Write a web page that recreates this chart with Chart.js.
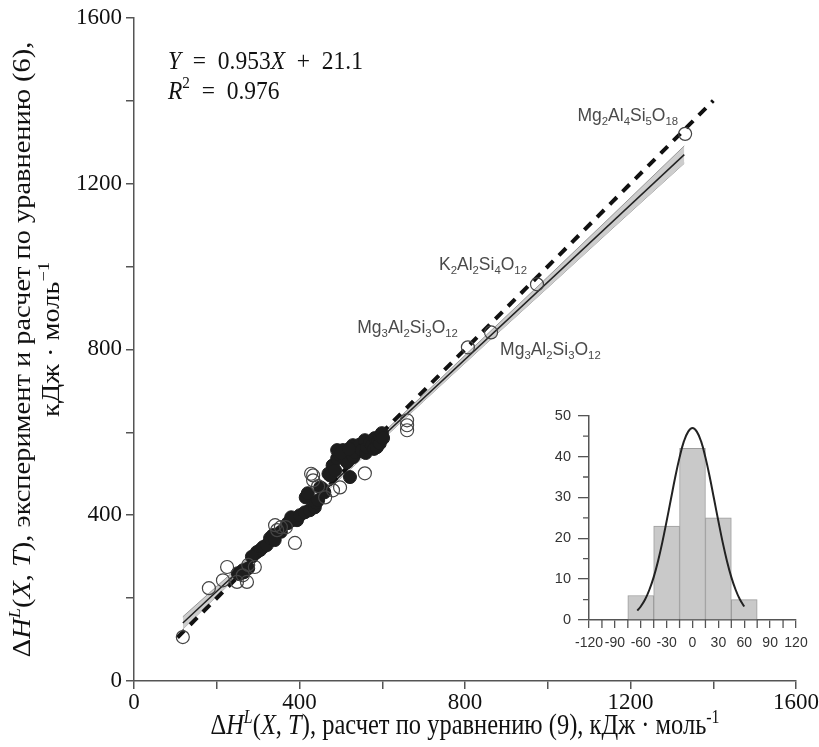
<!DOCTYPE html>
<html>
<head>
<meta charset="utf-8">
<script src="https://cdn.jsdelivr.net/npm/chart.js@4.4.0/dist/chart.umd.min.js"></script>
<style>
  html, body { margin: 0; padding: 0; background: #fff; }
  #wrap { position: relative; width: 819px; height: 747px; overflow: hidden; }
  #mainChart { position: absolute; left: 0; top: 0; }
  #inset { position: absolute; left: 540px; top: 400px; width: 279px; height: 262px; }
</style>
</head>
<body>
<div id="wrap">
  <canvas id="mainChart" width="819" height="747"></canvas>
  <div id="inset"><canvas id="histChart" width="279" height="262"></canvas></div>
</div>
<script>
// ---- main scatter data (kJ/mol) ----
const filledX = [251, 263, 276, 255, 297, 305, 312, 321, 329, 336, 340, 355, 372, 382, 394, 380, 401, 413, 425, 437,
                 415, 420, 440, 445, 450, 454, 460, 470, 474, 480, 486, 491, 498, 491, 505, 510, 515, 522, 529, 530,
                 534, 541, 545, 551, 558, 560, 563, 570, 575, 580, 582, 587, 590, 594, 595, 599, 602, 500, 520, 285, 265];
const filledY = [260, 267, 272, 258, 311, 316, 323, 328, 345, 352, 340, 360, 381, 388, 388, 395, 400, 407, 412, 419,
                 443, 453, 430, 436, 467, 465, 455, 500, 496, 520, 508, 537, 545, 557, 557, 535, 528, 492, 569, 540,
                 552, 564, 570, 557, 581, 550, 564, 575, 569, 560, 586, 564, 580, 573, 590, 598, 586, 550, 560, 300, 262];

const openX = [118, 181, 215, 225, 249, 263, 273, 276, 292, 341, 346, 355, 367, 389, 428, 433, 433, 445, 462, 481,
               498, 558, 660, 660, 660];
const openY = [106, 224, 243, 275, 239, 255, 239, 280, 275, 376, 364, 371, 371, 333, 500, 496, 484, 470, 443, 460,
               467, 501, 629, 617, 605];

const labeledNames = ['Mg2Al4Si5O18', 'K2Al2Si4O12', 'Mg3Al2Si3O12', 'Mg3Al2Si3O12'];
const labeledX = [1332, 974, 807, 863];
const labeledY = [1320, 957, 805, 841];

// y = x reference line and regression line with its confidence band
const diagX = [105, 1400];
const diagY = [105, 1400];
const fitX = [118, 1330];
const fitY = [140, 1270];
const bandX = [118, 250, 400, 550, 700, 850, 1000, 1150, 1330];
const bandUpper = [155, 273, 410, 550, 691, 833, 975, 1118, 1291];
const bandLower = [125, 253, 396, 536, 675, 813, 949, 1086, 1249];

const axisTicks = [0, 400, 800, 1200, 1600];

// ---- inset histogram of residuals ----
const binCenters = [-60, -30, 0, 30, 60];
const binCounts = [6, 23, 42, 25, 5];
const curveX = [-64, -60, -55, -50, -45, -40, -35, -30, -25, -20, -15, -10, -5, 0, 5, 10, 15, 20, 25, 30, 35, 40, 45, 50, 55, 60];
const curveY = [2.3, 3.3, 5.0, 7.4, 10.5, 14.4, 19.0, 24.2, 29.6, 35.0, 39.8, 43.7, 46.1, 47, 46.1, 43.7, 39.8, 35.0, 29.6, 24.2, 19.0, 14.4, 10.5, 7.4, 5.0, 3.3];

const SERIF = "'Liberation Serif', 'Times New Roman', serif";
const SANS = "'Liberation Sans', Arial, sans-serif";

const toPts = (xs, ys) => xs.map((x, i) => ({ x: x, y: ys[i] }));

// draw text made of parts [text, flags]; flags: i = italic, ^ = superscript, _ = subscript
function drawRich(ctx, parts, x, y, size, family, align, sx, sy) {
    const fontOf = f => {
        const s = (f.includes('^') || f.includes('_')) ? size * 0.65 : size;
        return (f.includes('i') ? 'italic ' : '') + s + 'px ' + family;
    };
    let total = 0;
    parts.forEach(p => { ctx.font = fontOf(p[1]); total += ctx.measureText(p[0]).width; });
    ctx.save();
    ctx.translate(x, y);
    ctx.scale(sx || 1, sy || 1);
    let cx = align === 'center' ? -total / 2 : (align === 'right' ? -total : 0);
    ctx.textAlign = 'left';
    ctx.textBaseline = 'alphabetic';
    parts.forEach(p => {
        ctx.font = fontOf(p[1]);
        let dy = 0;
        if (p[1].includes('^')) dy = -size * 0.4;
        if (p[1].includes('_')) dy = size * 0.22;
        ctx.fillText(p[0], cx, dy);
        cx += ctx.measureText(p[0]).width;
    });
    ctx.restore();
}

function formulaParts(s) {
    return s.split(/(\d+)/).filter(t => t).map(t => [t, /^\d+$/.test(t) ? '_' : '']);
}

const annotations = {
    id: 'annotations',
    afterDraw(chart) {
        const ctx = chart.ctx;
        const xs = chart.scales.x, ys = chart.scales.y;
        const area = chart.chartArea;
        ctx.save();
        // compound labels next to their points
        const offsets = [[-7, -13, 'right'], [-10, -14, 'right'], [-10, -14, 'right'], [9, 23, 'left']];
        ctx.fillStyle = '#4a4a4a';
        labeledNames.forEach((name, i) => {
            const px = xs.getPixelForValue(labeledX[i]);
            const py = ys.getPixelForValue(labeledY[i]);
            const o = offsets[i];
            drawRich(ctx, formulaParts(name), px + o[0], py + o[1], 17.5, SANS, o[2]);
        });
        // regression equation
        ctx.fillStyle = '#111';
        drawRich(ctx, [['Y', 'i'], ['\u2002=\u20020.953', ''], ['X', 'i'], ['\u2002+\u200221.1', '']],
            area.left + 34, area.top + 51, 23.5, SERIF, 'left', 1, 1.1);
        drawRich(ctx, [['R', 'i'], ['2', '^'], ['\u2002=\u20020.976', '']], area.left + 34, area.top + 81, 23.5, SERIF, 'left', 1, 1.1);
        // x axis title
        const unit = [['), расчет по уравнению (9), кДж · моль', ''], ['-1', '^']];
        drawRich(ctx, [['Δ', ''], ['H', 'i'], ['L', 'i^'], ['(', ''], ['X', 'i'], [', ', ''], ['T', 'i']].concat(unit),
            (area.left + area.right) / 2, 734, 24.5, SERIF, 'center', 1, 1.16);
        // y axis title, two rotated lines
        ctx.translate(0, (area.top + area.bottom) / 2);
        ctx.rotate(-Math.PI / 2);
        drawRich(ctx, [['Δ', ''], ['H', 'i'], ['L', 'i^'], ['(', ''], ['X', 'i'], [', ', ''], ['T', 'i'],
            ['), эксперимент и расчет по уравнению (6),', '']], 0, 30, 24.5, SERIF, 'center', 1.16, 1);
        drawRich(ctx, [['кДж · моль', ''], ['−1', '^']], 10, 59, 24.5, SERIF, 'center', 1.16, 1);
        ctx.restore();
    }
};

const axisStyle = {
    border: { display: true, color: '#555', width: 1.5 },
    grid: { display: true, drawOnChartArea: false, drawTicks: true, tickLength: 8, color: '#555', lineWidth: 1.5 }
};

new Chart(document.getElementById('mainChart'), {
    type: 'scatter',
    data: {
        datasets: [
            { data: toPts(openX, openY), pointRadius: 6.5, pointBackgroundColor: 'rgba(0,0,0,0)',
              pointBorderColor: '#444', pointBorderWidth: 1.2, order: 0 },
            { data: toPts(labeledX, labeledY), pointRadius: 6.5, pointBackgroundColor: 'rgba(0,0,0,0)',
              pointBorderColor: '#444', pointBorderWidth: 1.2, order: 0 },
            { data: toPts(filledX, filledY), pointRadius: 6.5, pointBackgroundColor: '#1d1d1d',
              pointBorderColor: '#1d1d1d', pointBorderWidth: 1, order: 1 },
            { data: toPts(diagX, diagY), showLine: true, borderColor: '#111', borderWidth: 4,
              borderDash: [10, 8], pointRadius: 0, order: 2 },
            { data: toPts(fitX, fitY), showLine: true, borderColor: '#222', borderWidth: 1.5, pointRadius: 0, order: 3 },
            { data: toPts(bandX, bandUpper), showLine: true, borderColor: '#999', borderWidth: 1,
              pointRadius: 0, fill: '+1', backgroundColor: '#cdcdcd', order: 4 },
            { data: toPts(bandX, bandLower), showLine: true, borderColor: '#999', borderWidth: 1,
              pointRadius: 0, order: 4 }
        ]
    },
    options: {
        responsive: false,
        animation: false,
        layout: { padding: { top: 17, right: 23, left: 0, bottom: 0 } },
        plugins: { legend: { display: false }, tooltip: { enabled: false } },
        scales: {
            x: {
                type: 'linear', min: 0, max: 1600,
                afterFit: s => { s.height = 66; },
                ticks: { stepSize: 200, autoSkip: false, maxRotation: 0, padding: 0, color: '#111',
                         font: { family: SERIF, size: 23 },
                         callback: v => axisTicks.includes(v) ? String(v) : '' },
                ...axisStyle
            },
            y: {
                type: 'linear', min: 0, max: 1600,
                afterFit: s => { s.width = 134; },
                ticks: { stepSize: 200, autoSkip: false, padding: 4, color: '#111',
                         font: { family: SERIF, size: 23 },
                         callback: v => axisTicks.includes(v) ? String(v) : '' },
                ...axisStyle
            }
        }
    },
    plugins: [annotations]
});

// minor ticks for the inset axes
const insetMinor = {
    id: 'insetMinor',
    afterDraw(chart) {
        const ctx = chart.ctx;
        const xs = chart.scales.x, ys = chart.scales.y;
        ctx.save();
        ctx.strokeStyle = '#555';
        ctx.lineWidth = 1.3;
        ctx.beginPath();
        for (let v = -105; v <= 105; v += 30) {
            const px = xs.getPixelForValue(v);
            ctx.moveTo(px, xs.top);
            ctx.lineTo(px, xs.top + 8);
        }
        for (let v = 5; v < 50; v += 10) {
            const py = ys.getPixelForValue(v);
            ctx.moveTo(ys.right, py);
            ctx.lineTo(ys.right - 6, py);
        }
        ctx.stroke();
        ctx.restore();
    }
};

const insetAxis = {
    border: { display: true, color: '#555', width: 1.5 },
    grid: { display: true, drawOnChartArea: false, drawTicks: true, color: '#555', lineWidth: 1.3 }
};

new Chart(document.getElementById('histChart'), {
    type: 'bar',
    data: {
        datasets: [
            { type: 'line', data: toPts(curveX, curveY), borderColor: '#222', borderWidth: 2,
              pointRadius: 0, tension: 0.4, order: 0 },
            { type: 'bar', data: toPts(binCenters, binCounts), backgroundColor: '#c9c9c9',
              borderColor: '#9d9d9d', borderWidth: 1, barPercentage: 1, categoryPercentage: 1, order: 1 }
        ]
    },
    options: {
        responsive: false,
        animation: false,
        layout: { padding: { top: 15, right: 23, left: 0, bottom: 0 } },
        plugins: { legend: { display: false }, tooltip: { enabled: false } },
        scales: {
            x: {
                type: 'linear', min: -120, max: 120, offset: false,
                afterFit: s => { s.height = 42; },
                ticks: { stepSize: 30, autoSkip: false, maxRotation: 0, padding: 7, color: '#333',
                         font: { family: SANS, size: 14 } },
                ...insetAxis,
                grid: { ...insetAxis.grid, tickLength: 8, offset: false }
            },
            y: {
                type: 'linear', min: 0, max: 50,
                afterFit: s => { s.width = 49; },
                ticks: { stepSize: 10, padding: 7, color: '#333', font: { family: SANS, size: 14.5 } },
                ...insetAxis,
                grid: { ...insetAxis.grid, tickLength: 11 }
            }
        }
    },
    plugins: [insetMinor]
});
</script>
</body>
</html>
